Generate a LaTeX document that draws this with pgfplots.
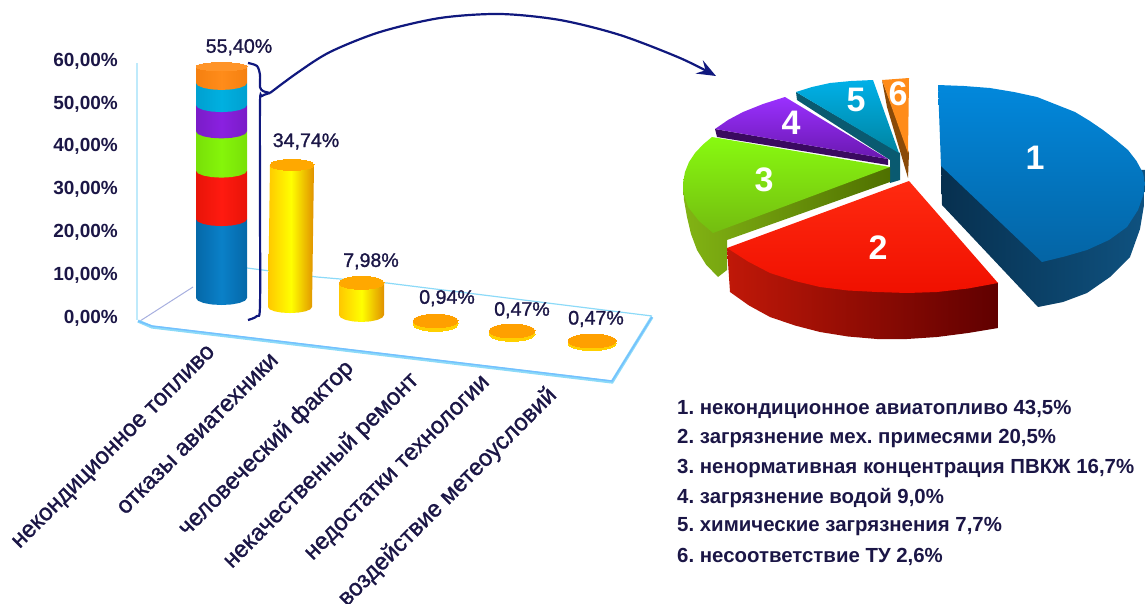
\documentclass[border=0pt]{standalone}
\usepackage{pgfplots}
\pgfplotsset{compat=1.18}
\usepackage{fontspec}
\usetikzlibrary{arrows.meta}
\setmainfont{Liberation Sans}
\newfontfamily\semib[FakeBold=1.2]{Liberation Sans}
\frenchspacing
\definecolor{ink}{HTML}{1B1646}
\definecolor{arc}{HTML}{10187E}
\newcommand\dc[1]{\definecolor{c#1}{HTML}{#1}}
\dc{8A4A08}\dc{FF8C1A}\dc{0A5A70}\dc{00B0E8}\dc{0084A0}\dc{3A0A60}\dc{9A30FF}\dc{6A18B0}
\dc{82B414}\dc{4F7000}\dc{88FA10}\dc{74BC10}\dc{C01808}\dc{600000}\dc{FF2A10}\dc{F01000}
\dc{07304F}\dc{0F5280}\dc{0288DC}\dc{0464A4}\dc{0568A8}\dc{0A80C8}\dc{E81408}\dc{FF1A10}
\dc{78E008}\dc{85F50A}\dc{7A1CC8}\dc{8A20E0}\dc{00A0D0}\dc{00B0E0}\dc{F58010}\dc{FF9428}
\dc{E09000}\dc{FFC800}\dc{FFFF00}\dc{FFA800}\dc{FFD000}\dc{FFA000}
\pgfplotsset{
  sh/.style={draw=none,mark=none},
  fl/.style={sh,fill=c#1},
  vg/.style 2 args={sh,top color=c#1,bottom color=c#2},
  hg/.style 2 args={sh,left color=c#1,right color=c#2},
  cyl/.style 2 args={sh,left color=c#1,right color=c#1,middle color=c#2},
  yel/.style={sh,left color=cFFC800,right color=cE09000,middle color=cFFFF00},
  off/.style 2 args={y filter/.expression={#1*y+#2}},
  disc/.style n args={3}{only marks,mark=*,mark size=#1pt,mark options={draw=c#2,line width=0pt,fill=c#2,yscale=#3}},
}
\begin{document}
\begin{tikzpicture}[x=1pt,y=1pt]
\path[use as bounding box,clip] (0,0) rectangle (1145,603);
% ---------- canvas axis in picture units: plate, bracket, arrow, pie, list
\begin{axis}[at={(0pt,0pt)},anchor=south west,scale only axis,width=1145pt,height=603pt,
  xmin=0,xmax=1145,ymin=0,ymax=603,y dir=reverse,hide axis,clip=false]
% wall and floor plate
\addplot[draw=cyan!25,line width=1.6pt,mark=none] coordinates {(137,63)(137,320)};
\addplot[draw=cyan!30!blue!35,line width=1pt,mark=none] coordinates {(140,321)(193,287)};
\addplot[draw=cyan!45,line width=1.2pt,mark=none] coordinates {(247,268)(317,277)(387,283)(652,316)};
\addplot[draw=cyan!45,line width=3.2pt,mark=none] coordinates {(138,321)(152,327)(612,382)(652,317)};
\addplot[draw=blue!45!cyan!55,line width=1.4pt,mark=none] coordinates {(138,321)(152,326)(612,381)(652,317)};
% bracket and arrow
\addplot[draw=arc,line width=2.2pt,smooth,mark=none] coordinates {(248,63)(257,66)(260,75)(260,87)(263,91)(270,93)};
\addplot[draw=arc,line width=2.2pt,smooth,mark=none] coordinates {(270,93)(262,96)(260,103)(260,200)(260,305)(257,316)(248,320)};
\addplot[draw=arc,line width=2.2pt,smooth,mark=none,-{Stealth[length=19pt,width=15pt,inset=7pt]}] coordinates {(270,93)(297,73)(330,52)(380,32)(440,18)(500,14)(560,20)(620,35)(680,58)(716,76)};
% slice 6
\addplot[fl={8A4A08}] coordinates {(882,80)(887,107)(908,178)(909,153)};
\addplot[fl={FF8C1A}] coordinates {(908,153)(882,80)(909,78)};
% slice 5
\addplot[fl={0A5A70}] coordinates {(796,92)(797,100)(890,160)(890,183)(900,180)(900,153)};
\addplot[vg={00B0E8}{0084A0}] coordinates {(899,153)(796,92)(812,87)(830,83)(851,81)(873,80)};
% slice 4
\addplot[fl={3A0A60}] coordinates {(715,129)(717,137)(888,165)(888,159)};
\addplot[vg={9A30FF}{6A18B0}] coordinates {(888,159)(715,129)(728,120)(743,112)(763,104)(785,97)};
% slice 3
\addplot[hg={82B414}{4F7000}] coordinates {(683,183)(684,200)(687,217)(691,234)(697,250)(706,264.5)(718,277)(727,270)(727,240)(890,182)(890,167)};
\addplot[vg={88FA10}{74BC10}] coordinates {(890,167)(712,137)(703,144.5)(695,153)(689,162)(685,172)(683,183)(684,195)(688,207)(699,221)(713,233)};
% slice 2
\addplot[hg={C01808}{600000}] coordinates {(727,248)(730,292)(749,305.5)(770,317)(795,325.5)(820,332)(848,336.5)(877,339)(907,339)(937,337)(968,333)(998,328)(998,283)};
\addplot[vg={FF2A10}{F01000}] coordinates {(909,181)(727,248)(748,261.5)(770,273)(795,281)(820,287)(848,290.5)(877,292)(907,293)(937,292)(968,288.5)(998,283)};
% slice 1
\addplot[hg={07304F}{0F5280}] coordinates {(941,166)(942,205)(1038,307)(1063,302)(1087,293)(1110,277)(1130,257)(1140,229)(1144,205)(1146,170)};
\addplot[vg={0288DC}{0464A4}] coordinates {(941,166)(938,85)(964,86)(990,88)(1014,92)(1037,97)(1056,104.5)(1075,112)(1089.5,120.8)(1103,130)(1116,140)(1128,150)(1136.5,161)(1143,173)(1145,183)(1144,193)(1138,210)(1127,227)(1109,240)(1087,250)(1064.5,256.5)(1042,262)};
% slice numbers
\begin{scope}[every node/.style={text=white,font=\fontsize{34}{36}\selectfont\bfseries}]
\node at (axis cs:1035,158) {1};
\node at (axis cs:878,248) {2};
\node at (axis cs:764,180) {3};
\node at (axis cs:791,123) {4};
\node at (axis cs:856,100) {5};
\node at (axis cs:898,94) {6};
\end{scope}
% list
\begin{scope}[every node/.style={anchor=west,text=ink,inner sep=0pt,font=\fontsize{20.4}{22}\selectfont\bfseries}]
\node at (axis cs:677,409) {1. некондиционное авиатопливо 43,5\%};
\node at (axis cs:677,438) {2. загрязнение мех. примесями 20,5\%};
\node at (axis cs:677,468) {3. ненормативная концентрация ПВКЖ 16,7\%};
\node at (axis cs:677,498) {4. загрязнение водой 9,0\%};
\node at (axis cs:677,527) {5. химические загрязнения 7,7\%};
\node at (axis cs:677,557) {6. несоответствие ТУ 2,6\%};
\end{scope}
\end{axis}
% ---------- bar axis: y in percent, x in picture units
\begin{axis}[at={(120pt,258pt)},anchor=south west,scale only axis,width=540pt,height=340pt,
  xmin=120,xmax=660,ymin=-6.538,ymax=72.85,clip=false,
  axis line style={draw=none},major tick style={draw=none},
  ytick={0,10,20,30,40,50,60},
  yticklabels={{0,00\%},{10,00\%},{20,00\%},{30,00\%},{40,00\%},{50,00\%},{60,00\%}},
  y tick label style={font=\fontsize{19}{20}\selectfont\bfseries,text=ink,inner sep=0pt},
  ytick pos=left,xtick pos=bottom,
  yticklabel style={xshift=-2pt,yshift=-1pt},
  xtick={218,287,370,447,523,600},
  xticklabels={{некондиционное топливо\rule{7pt}{0pt}},{отказы авиатехники\rule{17pt}{0pt}},{человеческий фактор\rule{28pt}{0pt}},{некачественный ремонт\rule{45pt}{0pt}},{недостатки технологии\rule{50pt}{0pt}},{воздействие метеоусловий\rule{66pt}{0pt}}},
  x tick label style={rotate=45,anchor=east,inner sep=0pt,font=\fontsize{23.6}{25}\selectfont\semib,text=ink},
  major tick length=0pt,
]
% first column, stacked segments
\addplot[cyl={0568A8}{0A80C8},off={0.975}{4.44}] coordinates {(196,18.9)(196,0)(197.9,-0.64)(203.5,-1.19)(211.7,-1.55)(221.5,-1.68)(231.3,-1.55)(239.5,-1.19)(245.1,-0.64)(247,0)(247,18.9)};
\addplot[cyl={E81408}{FF1A10},off={0.975}{4.44}] coordinates {(196,30.5)(196,18.9)(197.9,18.26)(203.5,17.71)(211.7,17.35)(221.5,17.22)(231.3,17.35)(239.5,17.71)(245.1,18.26)(247,18.9)(247,30.5)};
\addplot[cyl={78E008}{85F50A},off={0.975}{4.44}] coordinates {(196,39.9)(196,30.5)(197.9,29.86)(203.5,29.31)(211.7,28.95)(221.5,28.82)(231.3,28.95)(239.5,29.31)(245.1,29.86)(247,30.5)(247,39.9)};
\addplot[cyl={7A1CC8}{8A20E0},off={0.975}{4.44}] coordinates {(196,46.2)(196,39.9)(197.9,39.26)(203.5,38.71)(211.7,38.35)(221.5,38.22)(231.3,38.35)(239.5,38.71)(245.1,39.26)(247,39.9)(247,46.2)};
\addplot[cyl={00A0D0}{00B0E0},off={0.975}{4.44}] coordinates {(196,51.5)(196,46.2)(197.9,45.56)(203.5,45.01)(211.7,44.65)(221.5,44.52)(231.3,44.65)(239.5,45.01)(245.1,45.56)(247,46.2)(247,51.5)};
\addplot[cyl={F58010}{FF8C1A},off={0.975}{4.44}] coordinates {(196,55.4)(196,51.5)(197.9,50.86)(203.5,50.31)(211.7,49.95)(221.5,49.82)(231.3,49.95)(239.5,50.31)(245.1,50.86)(247,51.5)(247,55.4)};
\addplot[disc={25.5}{FF9428}{0.16},off={0.975}{4.44}] coordinates {(221.5,55.4)};
% second column
\addplot[yel,off={0.955}{2.33}] coordinates {(270,34.74)(268,0)(269.7,-0.56)(274.4,-1.04)(281.6,-1.36)(290,-1.47)(298.4,-1.36)(305.6,-1.04)(310.3,-0.56)(312,0)(314,34.74)};
\addplot[disc={22}{FFA800}{0.25},off={0.955}{2.33}] coordinates {(292,34.74)};
% third column
\addplot[yel,off={0.94}{0.47}] coordinates {(339,7.98)(339,0)(340.7,-0.66)(345.6,-1.22)(352.9,-1.6)(361.5,-1.73)(370.1,-1.6)(377.4,-1.22)(382.3,-0.66)(384,0)(384,7.98)};
\addplot[disc={22.5}{FFA800}{0.29},off={0.94}{0.47}] coordinates {(361.5,7.98)};
% flat columns: foot, then top
\addplot[disc={22.5}{FFD000}{0.33},off={0.75}{-1.63}] coordinates {(435.5,0)};
\addplot[disc={22.5}{FFA000}{0.3},off={0.75}{-1.63}] coordinates {(435.5,0.94)};
\addplot[disc={23}{FFD000}{0.32},off={1.5}{-3.97}] coordinates {(512,0)};
\addplot[disc={23}{FFA000}{0.3},off={1.5}{-3.97}] coordinates {(512,0.47)};
\addplot[disc={24}{FFD000}{0.32},off={1}{-6.07}] coordinates {(592,0)};
\addplot[disc={24}{FFA000}{0.29},off={1}{-6.07}] coordinates {(592,0.47)};
% value labels
\begin{scope}[every node/.style={text=ink,inner sep=0pt,font=\fontsize{19.6}{21}\selectfont\semib}]
\node at (axis cs:239,63) {55,40\%};
\node at (axis cs:306,41) {34,74\%};
\node at (axis cs:371,13) {7,98\%};
\node at (axis cs:447,4.4) {0,94\%};
\node at (axis cs:522,1.6) {0,47\%};
\node at (axis cs:596,-0.45) {0,47\%};
\end{scope}
\end{axis}
\end{tikzpicture}
\end{document}
